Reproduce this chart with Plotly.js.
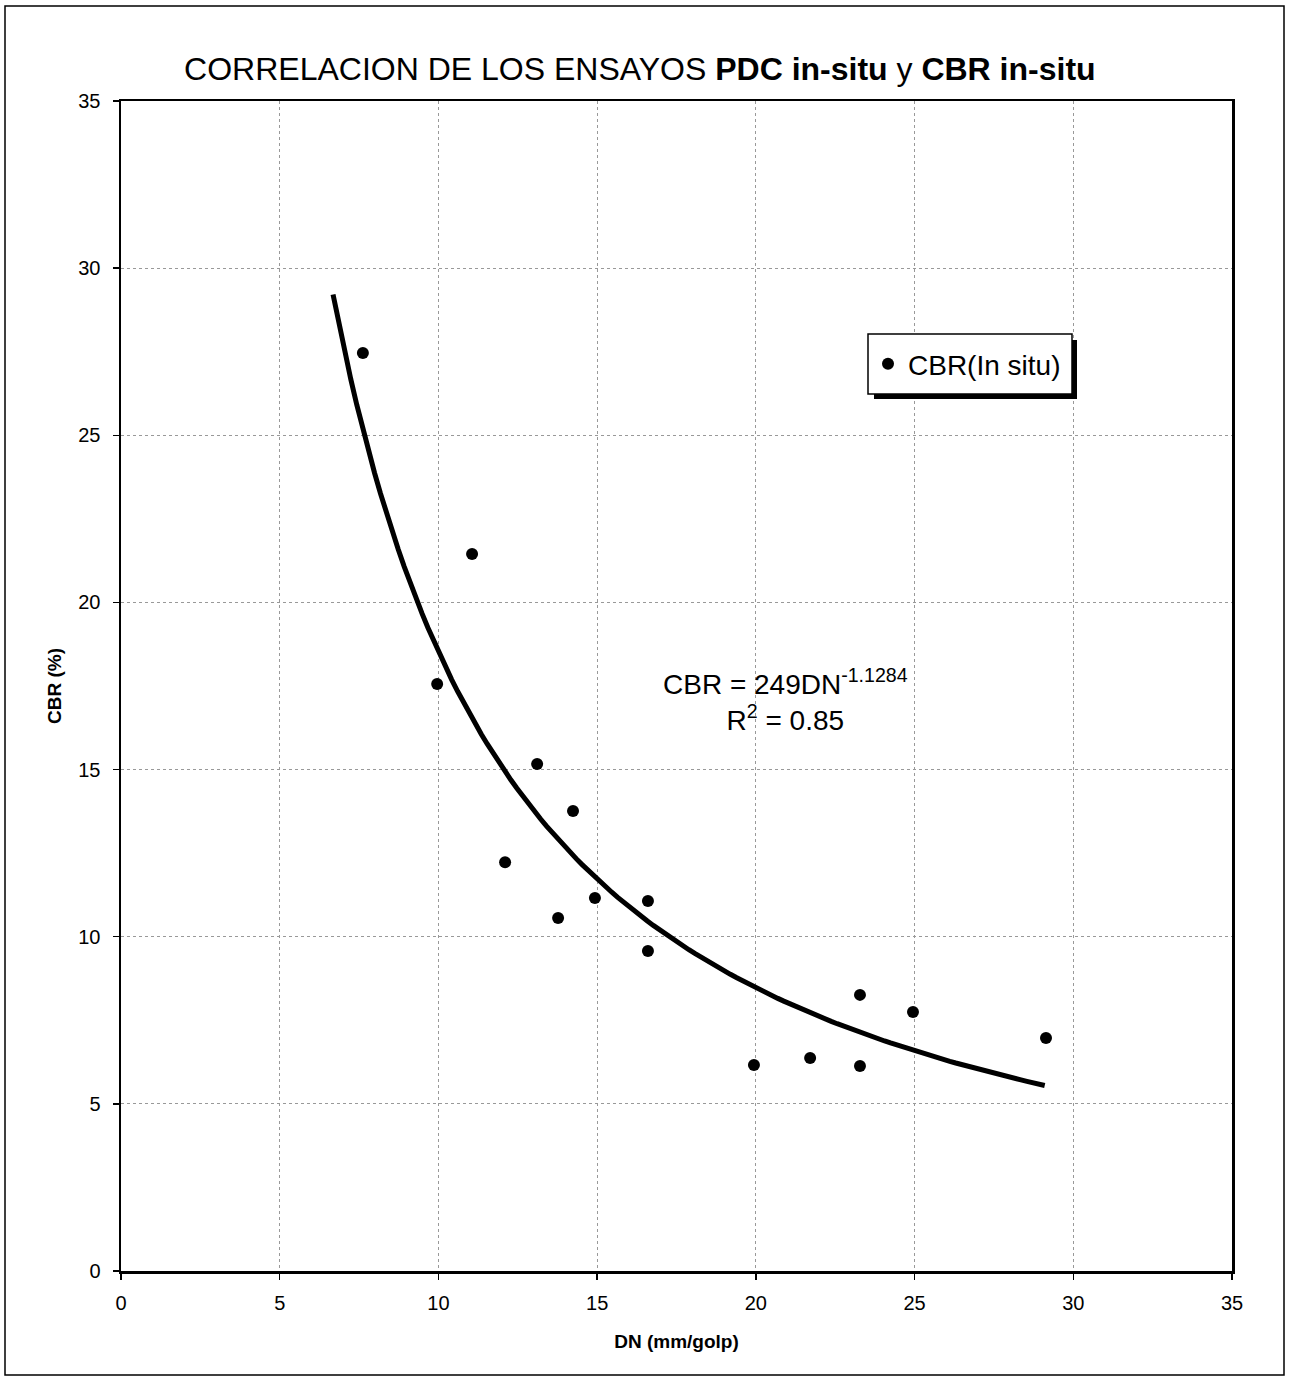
<!DOCTYPE html>
<html><head><meta charset="utf-8">
<script src="https://cdn.plot.ly/plotly-3.0.1.min.js"></script>
<style>html,body{margin:0;padding:0;background:#fff}#chart{width:1290px;height:1377px}</style>
</head><body><div id="chart"></div>
<script>
// Measured data: DN (mm/golp) vs CBR (%)
var dnValues  = [7.62, 9.96, 11.06, 12.10, 13.11, 13.77, 14.24, 14.93, 16.60, 16.60, 19.94, 21.71, 23.28, 23.28, 24.95, 29.14];
var cbrValues = [27.46, 17.56, 21.45, 12.23, 15.17, 10.56, 13.76, 11.16, 11.07, 9.57, 6.16, 6.37, 8.26, 6.13, 7.75, 6.97];
// Power trendline shown on the chart: CBR = 249 * DN^-1.1284
var fitCoef = 249, fitExp = -1.1284, fitXmin = 6.68, fitXmax = 29.1;
var tickVals = [0, 5, 10, 15, 20, 25, 30, 35];

var fitX = [], fitY = [];
var steps = 120;
for (var i = 0; i <= steps; i++) {
  var x = fitXmin + (fitXmax - fitXmin) * i / steps;
  fitX.push(x); fitY.push(fitCoef * Math.pow(x, fitExp));
}

var L = 121, R = 1232, T = 101, B = 1271, W = 1290, H = 1377;
function px(x){ return (x - L) / (R - L); }
function py(y){ return (B - y) / (B - T); }

var traces = [
  {x: fitX, y: fitY, mode: 'lines', line: {color: '#000', width: 5}, showlegend: false, hoverinfo: 'skip'},
  {x: dnValues, y: cbrValues, mode: 'markers', name: 'CBR(In situ)',
   marker: {color: '#000', size: 12, symbol: 'circle'}}
];

var font = "Arial, 'Liberation Sans', sans-serif";
var layout = {
  width: W, height: H,
  margin: {l: L, r: W - R, t: T, b: H - B},
  paper_bgcolor: '#fff', plot_bgcolor: '#fff',
  font: {family: font, color: '#000'},
  title: {text: 'CORRELACION DE LOS ENSAYOS <b>PDC in-situ</b> y <b>CBR in-situ</b>',
          font: {size: 32, family: font, color: '#000'}, x: 0.496, xanchor: 'center', y: 0.950, yanchor: 'middle'},
  xaxis: {range: [0, 35], tickvals: tickVals, ticks: 'outside', ticklen: 6, tickwidth: 1.5, tickcolor: '#000',
          ticklabelstandoff: 6,
          showgrid: true, gridcolor: '#999', griddash: 'dot', gridwidth: 1,
          showline: true, linecolor: '#000', linewidth: 2.5, mirror: true, zeroline: false,
          tickfont: {size: 20}, title: {text: '<b>DN (mm/golp)</b>', font: {size: 19}, standoff: 22}},
  yaxis: {range: [0, 35], tickvals: tickVals, ticks: 'outside', ticklen: 6, tickwidth: 1.5, tickcolor: '#000',
          ticklabelstandoff: 8,
          showgrid: true, gridcolor: '#999', griddash: 'dot', gridwidth: 1,
          showline: true, linecolor: '#000', linewidth: 2.5, mirror: true, zeroline: false,
          tickfont: {size: 20}, title: {text: '<b>CBR (%)</b>', font: {size: 19}, standoff: 12}},
  legend: {x: px(868), y: py(339), xanchor: 'left', yanchor: 'top', bgcolor: 'rgba(0,0,0,0)', borderwidth: 0,
           font: {size: 28}, itemwidth: 30},
  annotations: [
    {xref: 'paper', yref: 'paper', x: px(785), y: py(700), xanchor: 'center', yanchor: 'middle', showarrow: false,
     text: 'CBR = ' + fitCoef + 'DN<sup>' + fitExp + '</sup><br>R<sup>2</sup> = 0.85', font: {size: 28}, align: 'center'}
  ],
  shapes: [
    {type: 'rect', xref: 'paper', yref: 'paper', x0: px(874), x1: px(1077), y0: py(399), y1: py(340),
     fillcolor: '#000', line: {width: 0}, layer: 'above'},
    {type: 'rect', xref: 'paper', yref: 'paper', x0: px(868), x1: px(1072), y0: py(394), y1: py(334),
     fillcolor: '#fff', line: {color: '#000', width: 1.5}, layer: 'above'},
    {type: 'rect', xref: 'paper', yref: 'paper', x0: px(5), x1: px(1284), y0: py(1375), y1: py(6),
     line: {color: '#000', width: 1.5}, fillcolor: 'rgba(0,0,0,0)', layer: 'below'}
  ]
};
Plotly.newPlot('chart', traces, layout, {displayModeBar: false, staticPlot: true});
</script></body></html>
